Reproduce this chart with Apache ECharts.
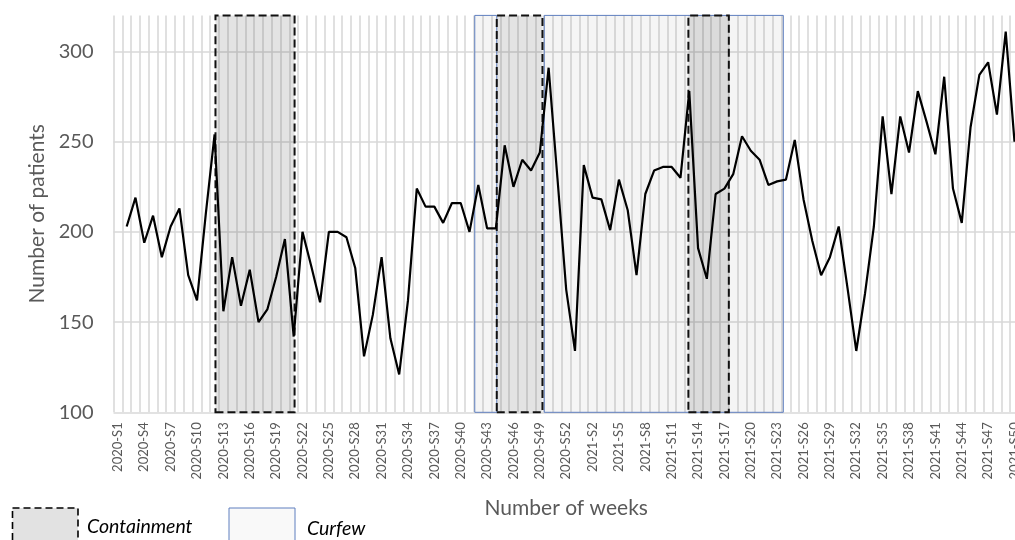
<!DOCTYPE html>
<html>
<head>
<meta charset="utf-8">
<script src="https://cdn.jsdelivr.net/npm/echarts@6/dist/echarts.min.js"></script>
<style>
html,body{margin:0;padding:0;background:#fff;}
#c{width:1015px;height:540px;}
</style>
</head>
<body>
<div id="c"></div>
<script>
// Week categories (2020 has 53 ISO weeks)
const weeks2020 = Array.from({length: 53}, (_, i) => '2020-S' + (i + 1));
const weeks2021 = Array.from({length: 50}, (_, i) => '2021-S' + (i + 1));
const categories = weeks2020.concat(weeks2021);

// Number of patients per week
const patients = [
  null, 203, 219, 194, 209, 186, 203, 213, 176, 162,
  210, 254, 156, 186, 159, 179, 150, 157, 175, 196,
  142, 200, 181, 161, 200, 200, 197, 180, 131, 154,
  186, 141, 121, 162, 224, 214, 214, 205, 216, 216,
  200, 226, 202, 202, 248, 225, 240, 234, 244, 291,
  230, 168, 134, 237, 219, 218, 201, 229, 212, 176,
  221, 234, 236, 236, 230, 278, 191, 174, 221, 224,
  232, 253, 245, 240, 226, 228, 229, 251, 218, 195,
  176, 186, 203, 169, 134, 166, 203, 264, 221, 264,
  244, 278, 261, 243, 286, 224, 205, 258, 287, 294,
  265, 311, 250
];

// Restriction periods, as week-index spans (start, end)
const curfewPeriods = [[40.6, 43.1], [48.5, 75.7]];
const containmentPeriods = [[11.1, 20.1], [43.1, 48.3], [64.9, 69.5]];

const yTicks = {min: 100, max: 320, interval: 50};

const chart = echarts.init(document.getElementById('c'), null, {renderer: 'canvas'});
const labelColor = '#595959';
const FONT = 'Lato, "Open Sans", sans-serif';

function spans(list, yLo, yHi) {
  return list.map(p => [{xAxis: p[0], yAxis: yLo}, {xAxis: p[1], yAxis: yHi}]);
}

chart.setOption({
  animation: false,
  grid: {left: 113.5, width: 905.4, top: 15.4, height: 396.9, outerBoundsMode: 'none', containLabel: false},
  xAxis: [{
    type: 'category',
    data: categories,
    boundaryGap: true,
    axisLine: {show: false},
    axisTick: {show: false},
    axisLabel: {
      interval: 2, rotate: 90, fontSize: 13, color: labelColor,
      fontFamily: FONT, margin: 10
    },
    splitLine: {show: true, interval: 0, lineStyle: {color: '#d9d9d9', width: 1.6}},
    name: 'Number of weeks',
    nameLocation: 'middle',
    nameGap: 85,
    nameTextStyle: {fontSize: 21, color: labelColor, fontFamily: FONT}
  }, {
    type: 'value',
    min: -0.5,
    max: categories.length - 0.5,
    show: false
  }],
  yAxis: {
    type: 'value',
    min: yTicks.min, max: yTicks.max, interval: yTicks.interval,
    axisLine: {show: false},
    axisTick: {show: false},
    axisLabel: {fontSize: 20, color: labelColor, fontFamily: FONT, margin: 20, showMaxLabel: false},
    splitLine: {show: true, showMaxLine: false, lineStyle: {color: '#d9d9d9', width: 1.6}},
    name: 'Number of patients',
    nameLocation: 'middle',
    nameGap: 55,
    nameTextStyle: {fontSize: 21, color: labelColor, fontFamily: FONT}
  },
  series: [{
    type: 'line',
    xAxisIndex: 1,
    data: [],
    clip: false,
    silent: true,
    markArea: {
      silent: true,
      itemStyle: {color: 'rgba(0,0,0,0.04)', borderColor: '#5f7fbf', borderWidth: 1},
      data: spans(curfewPeriods, 99.6, 321)
    }
  }, {
    type: 'line',
    xAxisIndex: 1,
    data: [],
    clip: false,
    silent: true,
    markArea: {
      silent: true,
      itemStyle: {color: 'rgba(0,0,0,0.11)', borderColor: '#111', borderWidth: 2, borderType: [8, 4]},
      data: spans(containmentPeriods, 99.6, 321)
    }
  }, {
    type: 'line',
    z: 5,
    data: patients,
    showSymbol: false,
    symbol: 'none',
    connectNulls: false,
    lineStyle: {color: '#000', width: 2.2}
  }],
  graphic: [
    {type: 'rect', shape: {x: 12.5, y: 508, width: 65.5, height: 44},
     style: {fill: '#e2e2e2', stroke: '#000', lineWidth: 1.6, lineDash: [7, 4]}},
    {type: 'text', x: 87, y: 527,
     style: {text: 'Containment', font: 'italic 19.5px Lato, sans-serif', fill: '#000', verticalAlign: 'middle'}},
    {type: 'rect', shape: {x: 229, y: 508, width: 66, height: 44},
     style: {fill: '#f9f9f9', stroke: '#5f7fbf', lineWidth: 1}},
    {type: 'text', x: 307, y: 529,
     style: {text: 'Curfew', font: 'italic 19.5px Lato, sans-serif', fill: '#000', verticalAlign: 'middle'}}
  ]
});
</script>
</body>
</html>
